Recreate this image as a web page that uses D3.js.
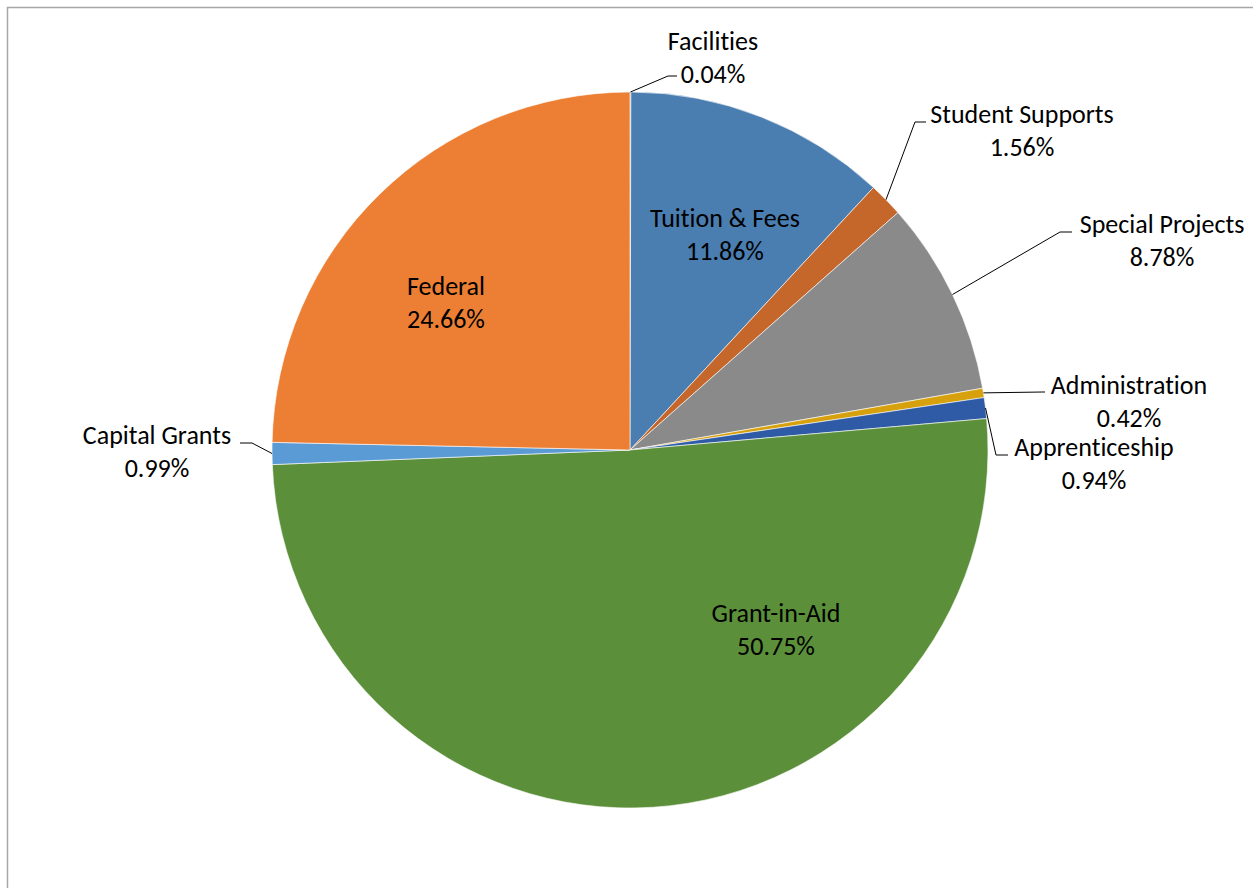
<!DOCTYPE html>
<html>
<head>
<meta charset="utf-8">
<script src="https://cdn.jsdelivr.net/npm/d3@7"></script>
<style>
  body { margin: 0; background: #fff; }
  svg { display: block; }
</style>
</head>
<body>
<div class="svg-container"></div>
<script>
// data, clockwise from 12 o'clock
let categories = ["Facilities", "Tuition & Fees", "Student Supports", "Special Projects",
                  "Administration", "Apprenticeship", "Grant-in-Aid", "Capital Grants", "Federal"];
let shares = [0.04, 11.86, 1.56, 8.78, 0.42, 0.94, 50.75, 0.99, 24.66];
let colors = ["#4a7db0", "#4a7db0", "#c5672a", "#8a8a8a", "#d6a10c", "#2f5ba6", "#5b8f3a", "#5b9bd5", "#ec7f33"];

// label layout: inside labels sit at a given point, outside ones get a leader line
let labelLayout = {
    "Facilities":       {x: 713, y: 41, inside: false, elbow: [668, 76], end: 677},
    "Tuition & Fees":   {x: 725, y: 218, inside: true},
    "Student Supports": {x: 1022, y: 114, inside: false, elbow: [915, 122], end: 926},
    "Special Projects": {x: 1162, y: 224, inside: false, elbow: [1060, 232], end: 1072},
    "Administration":   {x: 1129, y: 385, inside: false, elbow: [1043, 392], end: 1045},
    "Apprenticeship":   {x: 1094, y: 447, inside: false, elbow: [996, 455], end: 1008},
    "Grant-in-Aid":     {x: 776, y: 613, inside: true},
    "Capital Grants":   {x: 157, y: 435, inside: false, elbow: [252, 443], end: 240},
    "Federal":          {x: 446, y: 286, inside: true}
};

let width = 1253;
let height = 888;
let cx = 630, cy = 450, radius = 358;
let lineGap = 33;

let svg = d3.select(".svg-container")
    .append("svg")
    .attr("width", width)
    .attr("height", height);

// chart area frame (only top/left edges are visible in the picture)
svg.append("rect")
    .attr("x", 7.5).attr("y", 7.5)
    .attr("width", width + 10).attr("height", height + 10)
    .attr("fill", "none")
    .attr("stroke", "#a6a6a6")
    .attr("stroke-width", 1.5);

let rows = categories.map((c, i) => ({name: c, value: shares[i], color: colors[i]}));

let pie = d3.pie()
    .value(d => d.value)
    .sort(null);

let arc = d3.arc().innerRadius(0).outerRadius(radius);

let arcs = pie(rows);

let g = svg.append("g").attr("transform", "translate(" + cx + "," + cy + ")");

g.selectAll("path")
    .data(arcs)
    .enter()
    .append("path")
    .attr("d", arc)
    .attr("fill", d => d.data.color)
    .attr("stroke", "#ffffff")
    .attr("stroke-width", 0.6);

let font = "Calibri, Carlito, Lato, sans-serif";

arcs.forEach(function(d)
{
    let lay = labelLayout[d.data.name];
    let mid = (d.startAngle + d.endAngle) / 2;
    let px = cx + Math.sin(mid) * radius;
    let py = cy - Math.cos(mid) * radius;

    if(!lay.inside)
    {
        svg.append("polyline")
            .attr("points", [[px, py], lay.elbow, [lay.end, lay.elbow[1]]].map(p => p.join(",")).join(" "))
            .attr("fill", "none")
            .attr("stroke", "#000")
            .attr("stroke-width", 1);
    }

    let t = svg.append("text")
        .attr("text-anchor", "middle")
        .style("font-family", font)
        .style("font-size", "26px")
        .style("font-variant-ligatures", "none")
        .style("fill", "#000");
    t.append("tspan")
        .attr("x", lay.x).attr("y", lay.y)
        .attr("dy", "0.35em")
        .text(d.data.name);
    t.append("tspan")
        .attr("x", lay.x).attr("y", lay.y + lineGap)
        .attr("dy", "0.35em")
        .text(d3.format(".2f")(d.data.value) + "%");
});
</script>
</body>
</html>
